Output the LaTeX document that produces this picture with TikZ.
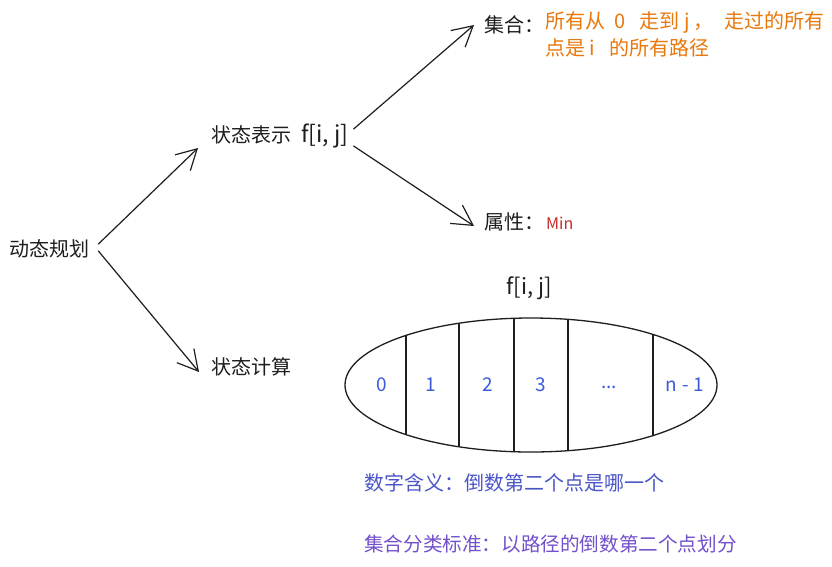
\documentclass[tikz,border=0pt]{standalone}
\usepackage{fontspec}
\setmainfont{Noto Sans CJK SC}
\usetikzlibrary{arrows.meta,shapes.geometric}
\definecolor{orangetxt}{HTML}{E8780C}
\definecolor{redtxt}{HTML}{C92A2A}
\definecolor{bluetxt}{HTML}{3B5BDB}
\definecolor{bluelbl}{HTML}{4A55C8}
\definecolor{purplelbl}{HTML}{7350CC}
\definecolor{ink}{HTML}{1E1E1E}
\tikzset{
  txt/.style={inner sep=0pt, anchor=west, text=ink, font=\fontsize{20}{27}\selectfont},
  arr/.style={draw=ink, line width=1.2pt, line cap=round,
    -{Straight Barb[length=20pt,width=22pt,line width=1.2pt]}},
  cell/.style={inner sep=0pt, text=bluetxt, font=\fontsize{19}{22}\selectfont},
  sep/.style={draw=ink, line width=1.2pt},
}
\begin{document}
\begin{tikzpicture}[x=1pt,y=-1pt]
\useasboundingbox[fill=white] (0,0) rectangle (832,566);
% text nodes
\node[txt] (dp) at (9,249) {动态规划};
\node[txt] (rep) at (211,136) {状态表示\hspace{10pt}{\fontsize{23}{27}\selectfont f[i, j]}};
\node[txt] (calc) at (211,367) {状态计算};
\node[txt] (set) at (484,25) {集合：};
\node[txt, text=orangetxt, align=left, anchor=north west] (setdesc) at (545,11.5)
  {所有从\hspace{9pt}0\hspace{14pt}走到\hspace{5pt}j\hspace{4pt}，\hspace{11pt}走过的所有\\
   点是\hspace{4pt}i\hspace{15pt}的所有路径};
\node[txt] (attr) at (484,222) {属性：};
\node[txt, text=redtxt, font=\fontsize{16}{20}\selectfont] (min) at (546,223) {Min};
% arrows
\draw[arr] ([xshift=9pt,yshift=5pt]dp.east) -- ([xshift=-13pt,yshift=-12pt]rep.west);
\draw[arr] ([xshift=9pt,yshift=-2pt]dp.east) -- ([xshift=-12pt,yshift=-5pt]calc.west);
\draw[arr] ([xshift=5pt,yshift=7pt]rep.east) -- ([xshift=-10pt]set.west);
\draw[arr] ([xshift=5pt,yshift=-10pt]rep.east) -- ([xshift=-10pt,yshift=-4pt]attr.west);
% ellipse
\node[txt, anchor=center, font=\fontsize{22}{26}\selectfont] (flabel) at (529,288) {f[i, j]};
\node[ellipse, draw=ink, line width=1.3pt, minimum width=372pt, minimum height=134pt, inner sep=0pt] (ell) at (531,385) {};
\begin{scope}
  \clip (531,385) ellipse [x radius=186pt, y radius=67pt];
  \foreach \xx in {406,459,514,568,653} {
    \draw[sep] (\xx,300) -- (\xx,470);
  }
\end{scope}
\node[cell] (c0) at (382,385) {0};
\node[cell] (c1) at (431,385) {1};
\node[cell] (c2) at (488,385) {2};
\node[cell] (c3) at (541,385) {3};
\node[cell] (c4) at (609,387) {...};
\node[cell] (c5) at (685,385) {n\hspace{5pt}-\hspace{5pt}1};
% notes
\node[txt, text=bluelbl, font=\fontsize{20}{24}\selectfont] (note1) at (364,483) {数字含义：倒数第二个点是哪一个};
\node[txt, text=purplelbl, font=\fontsize{19.6}{24}\selectfont] (note2) at (364,544) {集合分类标准：以路径的倒数第二个点划分};
\end{tikzpicture}
\end{document}
